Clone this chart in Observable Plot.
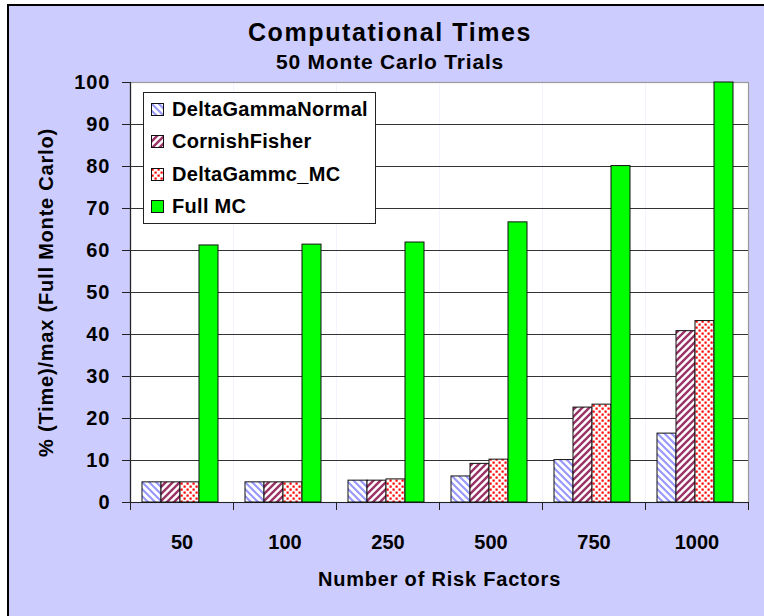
<!DOCTYPE html>
<html>
<head>
<meta charset="utf-8">
<script src="https://cdn.jsdelivr.net/npm/d3@7"></script>
<script src="https://cdn.jsdelivr.net/npm/@observablehq/plot@0.6"></script>
<style>
  html, body { margin: 0; padding: 0; background: #ffffff; }
  #chart { position: relative; width: 764px; height: 616px; overflow: hidden; font-family: "Liberation Sans", Arial, sans-serif; font-weight: bold; color: #000; }
  #bg { position: absolute; left: 7px; top: 4px; width: 800px; height: 700px; background: #CCCCFF; border-left: 2px solid #000; border-top: 2px solid #000; }
  #header { position: relative; height: 74px; }
  #title { position: absolute; left: 0; width: 780px; top: 17px; line-height: 30px; text-align: center; font-size: 25px; letter-spacing: 1.6px; }
  #subtitle { position: absolute; left: 0; width: 780px; top: 50px; line-height: 24px; text-align: center; font-size: 21px; letter-spacing: 0.8px; }
  #plot { position: relative; }
  #legend { position: absolute; left: 143px; top: 92px; width: 233px; height: 132px; box-sizing: border-box; background: #fff; border: 1px solid #222; }
  #legend .row { display: flex; align-items: center; height: 32.5px; padding-left: 7px; }
  #legend .row svg { flex: none; margin-right: 8px; }
  #legend .row span { font-size: 20px; letter-spacing: 0.3px; white-space: nowrap; }
  #plot svg [aria-label="y-axis tick label"] { letter-spacing: 1px; }
  #plot svg [aria-label="fx-axis label"], #plot svg [aria-label="y-axis label"] { letter-spacing: 0.8px; }
</style>
</head>
<body>
<svg width="0" height="0" style="position:absolute">
  <defs>
    <pattern id="pDGN" patternUnits="userSpaceOnUse" width="7" height="7">
      <rect width="7" height="7" fill="#ffffff"/>
      <path d="M-1,-1 L8,8 M-1,6 L1,8 M6,-1 L8,1" stroke="#9999FF" stroke-width="2.2"/>
    </pattern>
    <pattern id="pCF" patternUnits="userSpaceOnUse" width="7" height="7">
      <rect width="7" height="7" fill="#ffffff"/>
      <path d="M-1,8 L8,-1 M-1,1 L1,-1 M6,8 L8,6" stroke="#993366" stroke-width="2.4"/>
    </pattern>
    <pattern id="pDGMC" patternUnits="userSpaceOnUse" width="6" height="6">
      <rect width="6" height="6" fill="#ffffff"/>
      <rect x="0.5" y="0.5" width="2.2" height="2.2" fill="#FF0000"/>
      <rect x="3.5" y="3.5" width="2.2" height="2.2" fill="#FF0000"/>
    </pattern>
  </defs>
</svg>
<div id="chart">
  <div id="bg"></div>
  <div id="header">
    <div id="title">Computational Times</div>
    <div id="subtitle">50 Monte Carlo Trials</div>
  </div>
  <div id="plot"></div>
  <div id="legend"></div>
</div>
<script>
const categories = ["50", "100", "250", "500", "750", "1000"];
const seriesNames = ["DeltaGammaNormal", "CornishFisher", "DeltaGammc_MC", "Full MC"];
const deltaGammaNormal = [4.8, 4.8, 5.2, 6.2, 10.1, 16.4];
const cornishFisher = [4.8, 4.8, 5.2, 9.2, 22.6, 40.8];
const deltaGammcMC = [4.8, 4.8, 5.5, 10.2, 23.3, 43.2];
const fullMC = [61.2, 61.4, 61.9, 66.7, 80.1, 100];
const yTicks = [0, 10, 20, 30, 40, 50, 60, 70, 80, 90, 100];
const seriesFills = ["url(#pDGN)", "url(#pCF)", "url(#pDGMC)", "#00FF00"];

const seriesValues = [deltaGammaNormal, cornishFisher, deltaGammcMC, fullMC];
const data = [];
categories.forEach((c, i) => {
  seriesNames.forEach((s, j) => data.push({cat: c, series: s, value: seriesValues[j][i]}));
});

const plot = Plot.plot({
  width: 764,
  height: 542,
  marginLeft: 130,
  marginRight: 16,
  marginTop: 8,
  marginBottom: 114,
  style: {background: "transparent", overflow: "visible", fontFamily: "'Liberation Sans', Arial, sans-serif", fontSize: "20px", fontWeight: "bold", color: "#000"},
  fx: {domain: categories, padding: 0, label: "Number of Risk Factors"},
  x: {domain: seriesNames, paddingInner: 0, paddingOuter: 0.7, align: 0.45, axis: null},
  y: {domain: [0, 100]},
  color: {domain: seriesNames, range: seriesFills},
  marks: [
    Plot.frame({fill: "#ffffff", stroke: null}),
    Plot.gridY(yTicks.filter(t => t > 0 && t < 100), {stroke: "#333", strokeOpacity: 1, strokeWidth: 1}),
    Plot.frame({facet: "super", stroke: "#999", strokeWidth: 1.2, fill: "none"}),
    Plot.ruleY([0], {stroke: "#222", strokeWidth: 1.2}),
    Plot.barY(data, {fx: "cat", x: "series", y: "value", fill: "series", stroke: "#111", strokeWidth: 1}),
    Plot.frame({facet: "super", anchor: "left", stroke: "#222", strokeWidth: 1.2}),
    Plot.axisY(yTicks, {tickSize: 8, tickPadding: 12, stroke: "#222", label: "% (Time)/max (Full Monte Carlo)", labelAnchor: "center", labelArrow: "none", labelOffset: 92}),
    Plot.axisFx({anchor: "bottom", tickSize: 0, tickPadding: 32, label: "Number of Risk Factors", labelAnchor: "center", labelArrow: "none", labelOffset: 83}),
    Plot.axisFx({anchor: "bottom", tickSize: 8, tickFormat: () => "", dx: -51.5, stroke: "#222", label: null}),
    Plot.axisFx([categories[categories.length - 1]], {anchor: "bottom", tickSize: 8, tickFormat: () => "", dx: 51.5, stroke: "#222", label: null})
  ]
});
document.getElementById("plot").appendChild(plot);

const legend = d3.select("#legend");
seriesNames.forEach((s, j) => {
  const row = legend.append("div").attr("class", "row");
  const sw = row.append("svg").attr("width", 13).attr("height", 13);
  sw.append("rect").attr("x", 0.5).attr("y", 0.5).attr("width", 12).attr("height", 12)
    .attr("fill", seriesFills[j]).attr("stroke", "#111");
  row.append("span").text(s);
});
</script>
</body>
</html>
